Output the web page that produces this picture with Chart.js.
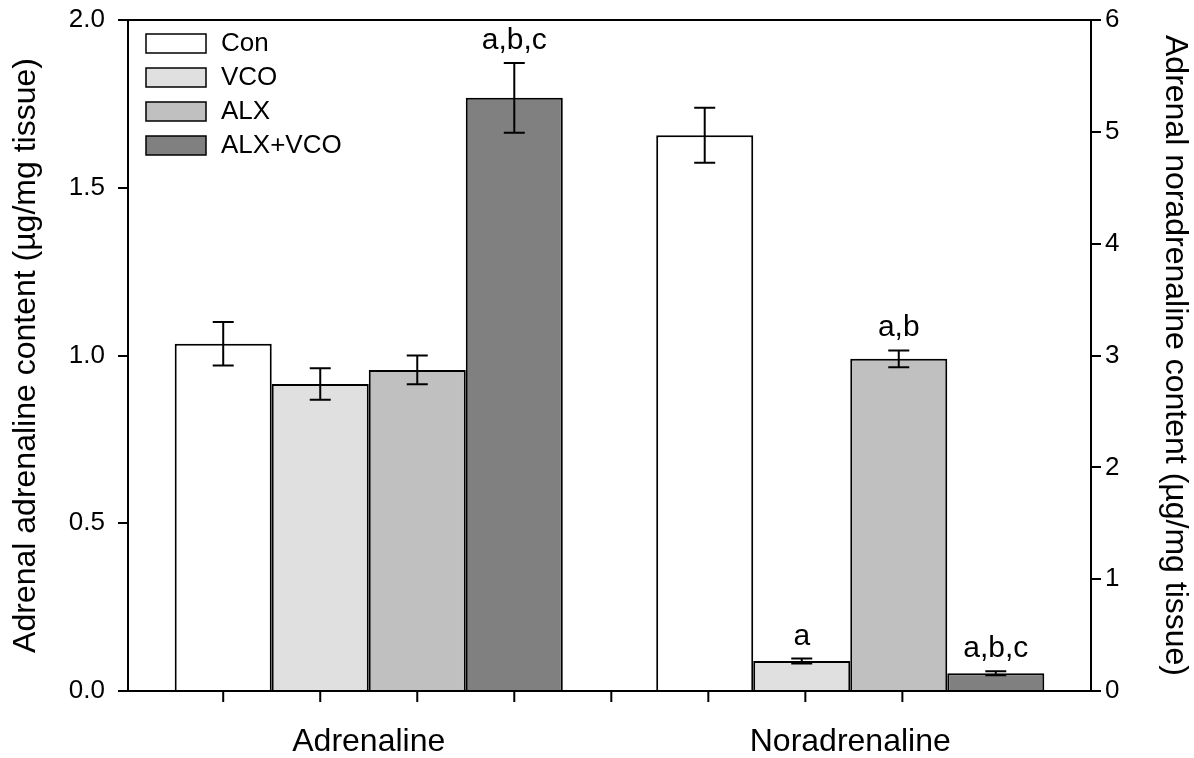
<!DOCTYPE html>
<html>
<head>
<meta charset="utf-8">
<script src="https://cdn.jsdelivr.net/npm/chart.js@4.4.1/dist/chart.umd.min.js"></script>
<style>
  body { margin: 0; background: #fff; }
  #wrap { width: 1194px; height: 758px; position: relative; }
</style>
</head>
<body>
<div id="wrap"><canvas id="chart"></canvas></div>
<script>
const categories = ['Adrenaline', 'Noradrenaline'];
const groups = ['Con', 'VCO', 'ALX', 'ALX+VCO'];
const colors = ['#ffffff', '#e0e0e0', '#c0c0c0', '#808080'];

// left axis (µg/mg tissue)
const adrenaline = [1.035, 0.915, 0.957, 1.768];
const adrenalineErr = [0.065, 0.047, 0.043, 0.104];
const adrenalineMarks = ['', '', '', 'a,b,c'];

// right axis (µg/mg tissue)
const noradrenaline = [4.97, 0.268, 2.97, 0.158];
const noradrenalineErr = [0.246, 0.022, 0.075, 0.018];
const noradrenalineMarks = ['', 'a', 'a,b', 'a,b,c'];

const leftTicks = [0, 0.5, 1.0, 1.5, 2.0];
const rightTicks = [0, 1, 2, 3, 4, 5, 6];

const FONT = '"Liberation Sans", Arial, sans-serif';

const datasets = [];
groups.forEach((g, i) => {
  datasets.push({
    label: g, data: [adrenaline[i], null], yAxisID: 'y',
    errs: [adrenalineErr[i], null], marks: [adrenalineMarks[i], ''],
    backgroundColor: colors[i], borderColor: '#000', borderWidth: 2
  });
});
groups.forEach((g, i) => {
  datasets.push({
    label: g, data: [null, noradrenaline[i]], yAxisID: 'y1',
    errs: [null, noradrenalineErr[i]], marks: ['', noradrenalineMarks[i]],
    backgroundColor: colors[i], borderColor: '#000', borderWidth: 2
  });
});

const extras = {
  id: 'extras',
  afterDatasetsDraw(chart) {
    const ctx = chart.ctx;
    const area = chart.chartArea;
    ctx.save();
    ctx.strokeStyle = '#000';
    ctx.fillStyle = '#000';
    ctx.lineWidth = 2;

    // error bars + letters
    const centers = [];
    let barW = 0;
    chart.data.datasets.forEach((ds, di) => {
      const meta = chart.getDatasetMeta(di);
      const sc = chart.scales[ds.yAxisID];
      meta.data.forEach((bar, j) => {
        const v = ds.data[j];
        if (v === null) return;
        centers.push(bar.x);
        barW = bar.width;
        const e = ds.errs[j];
        const yt = sc.getPixelForValue(v + e);
        const yb = sc.getPixelForValue(v - e);
        ctx.beginPath();
        ctx.moveTo(bar.x, yt); ctx.lineTo(bar.x, yb);
        ctx.moveTo(bar.x - 10.5, yt); ctx.lineTo(bar.x + 10.5, yt);
        ctx.moveTo(bar.x - 10.5, yb); ctx.lineTo(bar.x + 10.5, yb);
        ctx.stroke();
        if (ds.marks[j]) {
          ctx.font = '30px ' + FONT;
          ctx.textAlign = 'center';
          ctx.textBaseline = 'alphabetic';
          ctx.fillText(ds.marks[j], bar.x, yt - 14);
        }
      });
    });

    // top frame line
    ctx.beginPath();
    ctx.moveTo(area.left, area.top); ctx.lineTo(area.right, area.top);
    ctx.stroke();

    // x tick marks at bar slots
    centers.sort((a, b) => a - b);
    const first = centers[0], last = centers[centers.length - 1];
    ctx.beginPath();
    for (let x = first; x <= last + 1; x += barW) {
      ctx.moveTo(x, area.bottom); ctx.lineTo(x, area.bottom + 11);
    }
    ctx.stroke();

    // legend
    ctx.font = '26px ' + FONT;
    ctx.textAlign = 'left';
    ctx.textBaseline = 'middle';
    ctx.lineWidth = 1.5;
    groups.forEach((g, i) => {
      const y = area.top + 14 + i * 34;
      ctx.fillStyle = colors[i];
      ctx.fillRect(area.left + 18, y, 60, 19);
      ctx.strokeRect(area.left + 18, y, 60, 19);
      ctx.fillStyle = '#000';
      ctx.fillText(g, area.left + 93, y + 10);
    });
    ctx.restore();
  }
};

const fixVertical = w => s => { s.width = w; s.paddingTop = 14; s.paddingBottom = 14; };

new Chart(document.getElementById('chart'), {
  type: 'bar',
  data: { labels: categories, datasets: datasets },
  options: {
    responsive: true,
    maintainAspectRatio: false,
    animation: false,
    skipNull: true,
    categoryPercentage: 0.806,
    barPercentage: 1.0,
    layout: { padding: { top: 20, left: 0, right: 0, bottom: 0 } },
    plugins: { legend: { display: false }, tooltip: { enabled: false } },
    scales: {
      x: {
        grid: { display: false },
        border: { color: '#000', width: 2 },
        ticks: { color: '#000', font: { family: FONT, size: 32 }, padding: 24 },
        afterFit: s => { s.height = 67; }
      },
      y: {
        position: 'left',
        min: 0, max: 2,
        afterBuildTicks: s => { s.ticks = leftTicks.map(v => ({ value: v })); },
        grid: { drawOnChartArea: false, tickLength: 10, color: '#000', lineWidth: 2 },
        border: { color: '#000', width: 2 },
        ticks: { color: '#000', font: { family: FONT, size: 26 }, padding: 13,
                 callback: v => v.toFixed(1) },
        title: { display: true, text: 'Adrenal adrenaline content (µg/mg tissue)',
                 color: '#000', font: { family: FONT, size: 32 }, padding: { top: 7, bottom: 0 } },
        afterFit: fixVertical(128)
      },
      y1: {
        position: 'right',
        min: 0, max: 6,
        afterBuildTicks: s => { s.ticks = rightTicks.map(v => ({ value: v })); },
        grid: { drawOnChartArea: false, tickLength: 10, color: '#000', lineWidth: 2 },
        border: { color: '#000', width: 2 },
        ticks: { color: '#000', font: { family: FONT, size: 26 }, padding: 4 },
        title: { display: true, text: 'Adrenal noradrenaline content (µg/mg tissue)',
                 color: '#000', font: { family: FONT, size: 32 }, padding: { top: 0, bottom: 0 } },
        afterFit: fixVertical(103)
      }
    }
  },
  plugins: [extras]
});
</script>
</body>
</html>
